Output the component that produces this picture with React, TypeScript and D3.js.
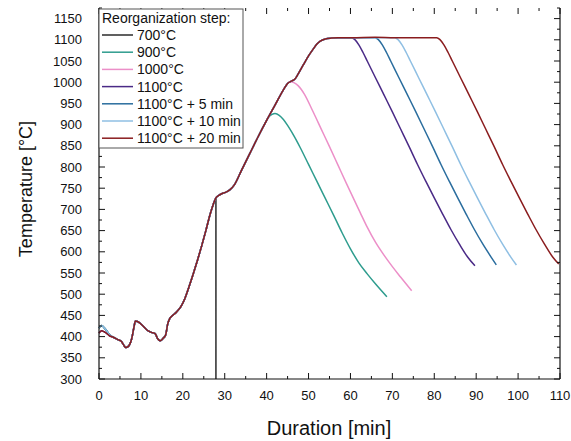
import React from "react";
import * as d3 from "d3";

// ---------- data ----------
const startA_t = [0, 0.6, 1.5, 2.5];
const startA_T = [420, 426, 418, 405];
const startB_t = [0, 0.6, 1.5, 2.5];
const startB_T = [408, 414, 410, 402];

const heatA_t = [3.5, 4.5, 5.3, 5.9, 6.4, 7.0, 7.8, 8.3, 8.7, 9.3, 10.5, 11.5, 12.5, 13.4, 14.0, 14.6, 15.3, 15.9, 16.4, 16.9, 17.6, 18.5, 19.5, 20.5, 21.5, 22.5, 23.5, 24.5, 25.5, 26.5, 27.3, 27.9];
const heatA_T = [398, 393, 389, 380, 374, 377, 395, 420, 437, 435, 425, 415, 410, 407, 395, 390, 396, 404, 430, 443, 450, 458, 470, 490, 518, 548, 580, 614, 650, 688, 713, 727];

const heatB_t = [28.6, 29.3, 30.2, 31.2, 32.3, 34, 36, 38, 40];
const heatB_T = [733, 737, 740, 746, 758, 792, 832, 872, 910];

const heatC_t = [42, 44, 45];
const heatC_T = [946, 982, 997];

const heatD_t = [46, 46.7, 47.5, 48.7, 50, 51.1, 52, 52.8, 54, 55.5, 57];
const heatD_T = [1003, 1007, 1019, 1040, 1062, 1078, 1090, 1097, 1102, 1104, 1105];

const drop700_t = [27.9];
const drop700_T = [300];

const cool900_t = [40.6, 41.3, 42, 43, 44, 45, 46, 48, 50, 52, 54, 56, 58, 60, 62, 64, 66, 68.7];
const cool900_T = [919, 924, 926, 922, 912, 898, 882, 846, 806, 766, 726, 686, 645, 607, 574, 548, 524, 494];

const cool1000_t = [45.6, 46.5, 47.5, 49, 51, 53, 55, 57, 59, 61, 62.3, 64, 66, 68, 70, 72, 74.6];
const cool1000_T = [1001, 999, 992, 972, 932, 890, 848, 805, 762, 720, 693, 658, 622, 592, 565, 540, 508];

const plat1100_t = [60.3];
const plat1100_T = [1105];
const cool1100_t = [61, 62, 63, 64, 66, 68, 70, 72, 74, 76, 78, 80, 82, 84, 86, 88, 89.7];
const cool1100_T = [1101, 1088, 1070, 1050, 1010, 970, 930, 889, 848, 806, 766, 727, 689, 652, 618, 587, 567];

const plat1105_t = [60.3, 65.9];
const plat1105_T = [1105, 1105];
const cool1105_t = [66.6, 67.6, 68.6, 69.6, 71.6, 73.6, 75.6, 77.6, 79.6, 81.6, 83.6, 85.6, 87.6, 89.6, 91.6, 93.6, 94.8];
const cool1105_T = [1101, 1088, 1070, 1050, 1010, 970, 930, 889, 848, 806, 766, 727, 689, 652, 618, 587, 569];

const plat1110_t = [60.3, 65.9, 70.6];
const plat1110_T = [1105, 1105, 1105];
const cool1110_t = [71.3, 72.3, 73.3, 74.3, 76.3, 78.3, 80.3, 82.3, 84.3, 86.3, 88.3, 90.3, 92.3, 94.3, 96.3, 98.3, 99.6];
const cool1110_T = [1101, 1088, 1070, 1050, 1010, 970, 930, 889, 848, 806, 766, 727, 689, 652, 618, 587, 569];

const plat1120_t = [60.3, 65.9, 70.6, 75, 80.6];
const plat1120_T = [1105, 1106, 1105, 1105, 1105];
const cool1120_t = [81.3, 82.3, 83.3, 84.3, 86.3, 88.3, 90.3, 92.3, 94.3, 96.3, 98.3, 100.3, 102.3, 104.3, 106.3, 108.3, 109.7];
const cool1120_T = [1101, 1088, 1070, 1050, 1010, 970, 930, 889, 848, 806, 766, 727, 689, 652, 618, 587, 571];

const legendLabels = ["700°C", "900°C", "1000°C", "1100°C", "1100°C + 5 min", "1100°C + 10 min", "1100°C + 20 min"];
const seriesColors = ["#2b2b2b", "#2e9c8e", "#ec8fc8", "#4a2a86", "#2a6d9e", "#8fbfe3", "#8a1c1e"];

const xTicks = [0, 10, 20, 30, 40, 50, 60, 70, 80, 90, 100, 110];
const yTicks = [300, 350, 400, 450, 500, 550, 600, 650, 700, 750, 800, 850, 900, 950, 1000, 1050, 1100, 1150];

type Seg = [number[], number[]];
function join(...segs: Seg[]): [number, number][] {
  const out: [number, number][] = [];
  segs.forEach(([ts, vs]) => ts.forEach((t, i) => out.push([t, vs[i]])));
  return out;
}

const series: [number, number][][] = [
  join([startA_t, startA_T], [heatA_t, heatA_T], [drop700_t, drop700_T]),
  join([startA_t, startA_T], [heatA_t, heatA_T], [heatB_t, heatB_T], [cool900_t, cool900_T]),
  join([startB_t, startB_T], [heatA_t, heatA_T], [heatB_t, heatB_T], [heatC_t, heatC_T], [cool1000_t, cool1000_T]),
  join([startB_t, startB_T], [heatA_t, heatA_T], [heatB_t, heatB_T], [heatC_t, heatC_T], [heatD_t, heatD_T], [plat1100_t, plat1100_T], [cool1100_t, cool1100_T]),
  join([startA_t, startA_T], [heatA_t, heatA_T], [heatB_t, heatB_T], [heatC_t, heatC_T], [heatD_t, heatD_T], [plat1105_t, plat1105_T], [cool1105_t, cool1105_T]),
  join([startA_t, startA_T], [heatA_t, heatA_T], [heatB_t, heatB_T], [heatC_t, heatC_T], [heatD_t, heatD_T], [plat1110_t, plat1110_T], [cool1110_t, cool1110_T]),
  join([startB_t, startB_T], [heatA_t, heatA_T], [heatB_t, heatB_T], [heatC_t, heatC_T], [heatD_t, heatD_T], [plat1120_t, plat1120_T], [cool1120_t, cool1120_T]),
];

// ---------- layout ----------
const W = 571, H = 441;
const left = 99, right = 560, top = 8, bottom = 379;
const FONT = "Arial, 'Liberation Sans', sans-serif";

export default function App() {
  const x = d3.scaleLinear().domain([0, 110]).range([left, right]);
  const y = d3.scaleLinear().domain([300, 1175]).range([bottom, top]);
  const line = d3.line<[number, number]>().x(d => x(d[0])).y(d => y(d[1])).curve(d3.curveMonotoneX);

  const xMinor = d3.range(0, 111, 5);
  const yMinor = d3.range(300, 1176, 25);

  const pathFor = (pts: [number, number][], i: number) => {
    if (i !== 0) return line(pts) || "";
    const head = pts.slice(0, -1);
    const last = pts[pts.length - 1];
    return (line(head) || "") + "L" + x(last[0]) + "," + y(last[1]);
  };

  return (
    <svg width={W} height={H} style={{ position: "absolute", left: 0, top: 0, background: "#fff" }} fontFamily={FONT}>
      <rect x={0} y={0} width={W} height={H} fill="#fff" />
      {series.map((pts, i) => (
        <path key={i} d={pathFor(pts, i)} fill="none" stroke={seriesColors[i]} strokeWidth={1.5} strokeLinejoin="round" />
      ))}
      <line x1={left} x2={left} y1={top} y2={bottom} stroke="#111" strokeWidth={1.2} />
      <line x1={right} x2={right} y1={top} y2={bottom} stroke="#111" strokeWidth={1.2} />
      <line x1={left} x2={right} y1={bottom} y2={bottom} stroke="#111" strokeWidth={1.2} />
      {xMinor.map(v => {
        const len = v % 10 === 0 ? 6 : 3;
        return (
          <g key={"xt" + v}>
            <line x1={x(v)} x2={x(v)} y1={bottom} y2={bottom - len} stroke="#111" strokeWidth={1} />
            <line x1={x(v)} x2={x(v)} y1={top} y2={top + len} stroke="#111" strokeWidth={1} />
          </g>
        );
      })}
      {yMinor.map(v => {
        const len = v % 50 === 0 ? 6 : 3;
        return (
          <g key={"yt" + v}>
            <line x1={left} x2={left + len} y1={y(v)} y2={y(v)} stroke="#111" strokeWidth={1} />
            <line x1={right} x2={right - len} y1={y(v)} y2={y(v)} stroke="#111" strokeWidth={1} />
          </g>
        );
      })}
      {xTicks.map(v => (
        <text key={"xl" + v} x={x(v)} y={400} textAnchor="middle" fontSize={13} fill="#111">{v}</text>
      ))}
      {yTicks.map(v => (
        <text key={"yl" + v} x={82} y={y(v) + 4.5} textAnchor="end" fontSize={13} fill="#111">{v}</text>
      ))}
      <text x={329} y={435} textAnchor="middle" fontSize={20} fill="#111">Duration [min]</text>
      <text transform={`translate(32,189) rotate(-90)`} textAnchor="middle" fontSize={18} fill="#111">Temperature [°C]</text>
      <rect x={left} y={9} width={144} height={139} fill="#fff" stroke="#555" strokeWidth={1} />
      <text x={102} y={23} fontSize={14} fill="#111">Reorganization step:</text>
      {legendLabels.map((lab, i) => {
        const ly = 35 + i * 17.2;
        return (
          <g key={lab}>
            <line x1={102} x2={133} y1={ly} y2={ly} stroke={seriesColors[i]} strokeWidth={1.5} />
            <text x={137} y={ly + 5} fontSize={14} fill="#111">{lab}</text>
          </g>
        );
      })}
    </svg>
  );
}
